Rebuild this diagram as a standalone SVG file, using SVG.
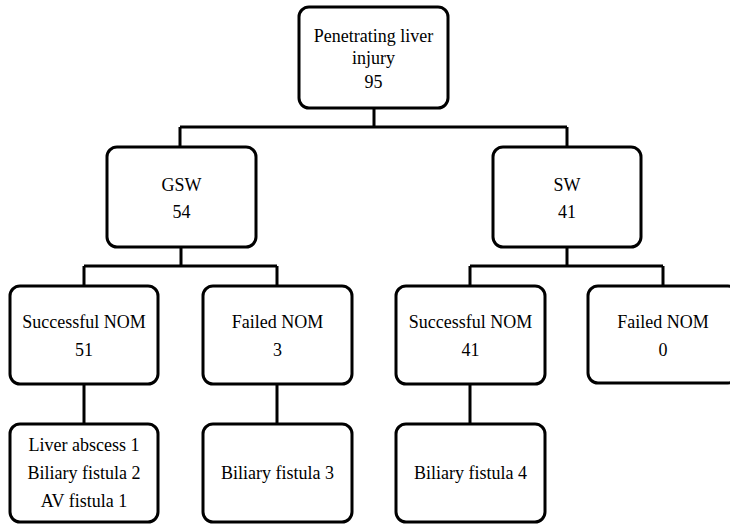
<svg xmlns="http://www.w3.org/2000/svg" width="730" height="525" viewBox="0 0 730 525">
<style>
.box{fill:#fff;stroke:#000;stroke-width:3}
.ln{fill:none;stroke:#000;stroke-width:3}
text{font-family:"Liberation Serif","Times New Roman",serif;font-size:18px;fill:#000;text-anchor:middle}
</style>
<rect width="730" height="525" fill="#fff"/>
<g id="connectors">
<path class="ln" d="M374 108V127M180 127H567M180 127V147M567 127V147"/>
<path class="ln" d="M181 247V266M84 266H277M84 266V286M277 266V286"/>
<path class="ln" d="M567 247V266M470 266H663M470 266V286M663 266V286"/>
<path class="ln" d="M84 384V424M277 384V424M470 384V424"/>
</g>
<g id="root"><rect class="box" x="299" y="7" width="149" height="101" rx="10"/><text x="373.5" y="42">Penetrating liver</text><text x="373.5" y="64">injury</text><text x="373.5" y="88">95</text></g>
<g id="gsw"><rect class="box" x="107" y="147" width="149" height="100" rx="10"/><text x="181.5" y="191">GSW</text><text x="181.5" y="218">54</text></g>
<g id="sw"><rect class="box" x="493" y="147" width="148" height="100" rx="10"/><text x="567" y="191">SW</text><text x="567" y="218">41</text></g>
<g id="gsw-success"><rect class="box" x="10" y="286" width="148" height="98" rx="10"/><text x="84" y="328">Successful NOM</text><text x="84" y="356">51</text></g>
<g id="gsw-failed"><rect class="box" x="203" y="286" width="149" height="98" rx="10"/><text x="277.5" y="328">Failed NOM</text><text x="277.5" y="356">3</text></g>
<g id="sw-success"><rect class="box" x="396" y="286" width="149" height="98" rx="10"/><text x="470.5" y="328">Successful NOM</text><text x="470.5" y="356">41</text></g>
<g id="sw-failed"><rect class="box" x="588" y="286" width="150" height="97" rx="10"/><text x="663" y="328">Failed NOM</text><text x="663" y="356">0</text></g>
<g id="gsw-success-comp"><rect class="box" x="10" y="424" width="148" height="98" rx="10"/><text x="84" y="451">Liver abscess 1</text><text x="84" y="479">Biliary fistula 2</text><text x="84" y="507">AV fistula 1</text></g>
<g id="gsw-failed-comp"><rect class="box" x="203" y="424" width="149" height="98" rx="10"/><text x="277.5" y="479">Biliary fistula 3</text></g>
<g id="sw-success-comp"><rect class="box" x="396" y="424" width="149" height="98" rx="10"/><text x="470.5" y="479">Biliary fistula 4</text></g>
</svg>
